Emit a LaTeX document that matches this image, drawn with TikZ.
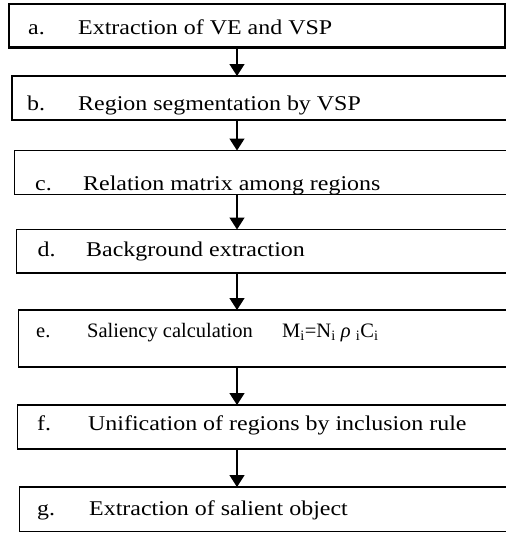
\documentclass[tikz,border=0pt]{standalone}
\usepackage{fontspec}
\setmainfont{Liberation Serif}[FakeStretch=1.14]
\newfontfamily\plainserif{Liberation Serif}
\usetikzlibrary{arrows.meta}
\begin{document}
\begin{tikzpicture}[x=1pt,y=-1pt,
  box/.style={draw=black,line width=1.7pt,anchor=north west,inner sep=0pt,outer sep=0pt},
  lbl/.style={anchor=base west,inner sep=0pt,font=\fontsize{21}{25}\selectfont},
  lble/.style={anchor=base west,inner sep=0pt,font=\plainserif\fontsize{20.5}{24}\selectfont},
  arr/.style={line width=1.5pt,-{Triangle[width=15pt,length=12pt]}}]
\useasboundingbox (0,0) rectangle (506,533);
\clip (0,0) rectangle (506,533);
% boxes
\node[box,line width=2.4pt,minimum width=496pt,minimum height=43.5pt] (a) at (9,4) {};
\node[box,minimum width=510pt,minimum height=44pt] (b) at (12,76) {};
\node[box,minimum width=510pt,minimum height=44pt] (c) at (14.5,150.5) {};
\node[box,minimum width=510pt,minimum height=43.5pt] (d) at (16.5,229.5) {};
\node[box,minimum width=510pt,minimum height=57pt] (e) at (18.5,310) {};
\node[box,minimum width=510pt,minimum height=44pt] (f) at (17.5,405) {};
\node[box,minimum width=510pt,minimum height=44.5pt] (g) at (19.5,487) {};
% arrows
\coordinate (ax) at (237,0);
\draw[arr] (a.south -| ax) -- (b.north -| ax);
\draw[arr] (b.south -| ax) -- (c.north -| ax);
\draw[arr] (c.south -| ax) -- (d.north -| ax);
\draw[arr] (d.south -| ax) -- (e.north -| ax);
\draw[arr] (e.south -| ax) -- (f.north -| ax);
\draw[arr] (f.south -| ax) -- (g.north -| ax);
% texts
\node[lbl] (la) at (28,34) {a.};
\node[lbl] (ta) at (78,34) {Extraction of VE and VSP};
\begin{scope}
\clip (0,78) rectangle (506,115.5);
\node[lbl] (lb) at (27,110) {b.};
\node[lbl] (tb) at (78,110) {Region segmentation by VSP};
\end{scope}
\begin{scope}
\clip (0,152) rectangle (506,193.5);
\node[lbl] (lc) at (35,190.5) {c.};
\node[lbl] (tc) at (83,190.5) {Relation matrix among regions};
\end{scope}
\begin{scope}
\clip (0,231) rectangle (506,260);
\node[lbl] (ld) at (37.5,256) {d.};
\node[lbl] (td) at (86,256) {Background extraction};
\end{scope}
\node[lble] (le) at (36,337) {e.};
\node[lble] (te) at (87,337) {Saliency calculation};
\node[lble] (fe) at (282,337) {M\textsubscript{i}=N\textsubscript{i} \textit{ρ} \textsubscript{i}C\textsubscript{i}};
\node[lbl] (lf) at (37,430) {f.};
\node[lbl] (tf) at (88,430) {Unification of regions by inclusion rule};
\begin{scope}
\clip (0,489) rectangle (506,519);
\node[lbl] (lg) at (37,515.5) {g.};
\node[lbl] (tg) at (89,515.5) {Extraction of salient object};
\end{scope}
\end{tikzpicture}
\end{document}
